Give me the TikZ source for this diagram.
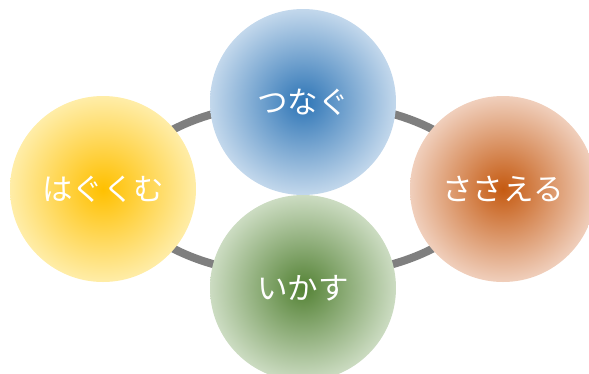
\documentclass[tikz,border=0pt]{standalone}
\usepackage{fontspec}
\newfontfamily\jpfont{Noto Sans CJK JP}
\definecolor{blueIn}{HTML}{2E75B6}
\definecolor{blueOut}{HTML}{C3D8EC}
\definecolor{yelIn}{HTML}{FFC000}
\definecolor{yelOut}{HTML}{FFEDA8}
\definecolor{orIn}{HTML}{C55A11}
\definecolor{orOut}{HTML}{F0CFBC}
\definecolor{grIn}{HTML}{548235}
\definecolor{grOut}{HTML}{CCDCC2}
\definecolor{ringgray}{HTML}{7F7F7F}
\tikzset{
  ball/.style={circle, minimum size=186pt, inner sep=0pt, text=white,
    font=\jpfont\fontsize{30.5}{33}\selectfont},
  ring/.style={draw=ringgray, line width=8pt}
}
\begin{document}
\begin{tikzpicture}[x=1pt,y=-1pt]
\useasboundingbox (0,0) rectangle (589,373);
\coordinate (c) at (303,189);
\draw[ring] (c) ellipse [x radius=178, y radius=87];
\node[ball, inner color=yelIn, outer color=yelOut] (hagu) at (103,189) {はぐくむ};
\node[ball, inner color=orIn, outer color=orOut] (sasa) at (503,189) {ささえる};
\node[ball, inner color=grIn, outer color=grOut] (ika) at (303,288) {いかす};
\node[ball, inner color=blueIn, outer color=blueOut] (tsu) at (303,102) {つなぐ};
\end{tikzpicture}
\end{document}
